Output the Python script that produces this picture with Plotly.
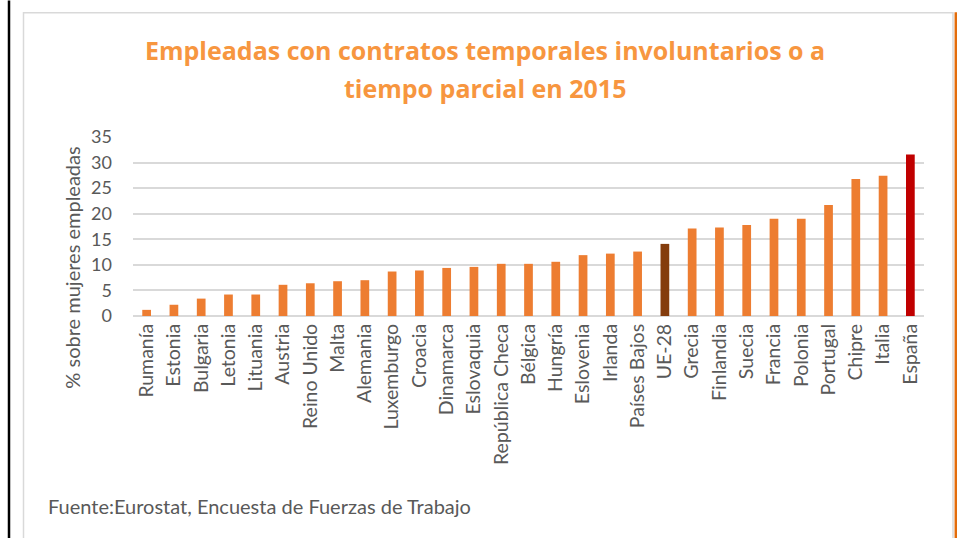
import plotly.graph_objects as go

countries = ["Rumanía", "Estonia", "Bulgaria", "Letonia", "Lituania", "Austria", "Reino Unido",
             "Malta", "Alemania", "Luxemburgo", "Croacia", "Dinamarca", "Eslovaquia",
             "República Checa", "Bélgica", "Hungría", "Eslovenia", "Irlanda", "Países Bajos",
             "UE-28", "Grecia", "Finlandia", "Suecia", "Francia", "Polonia", "Portugal",
             "Chipre", "Italia", "España"]
values = [1.2, 2.2, 3.4, 4.2, 4.2, 6.1, 6.4, 6.8, 7.0, 8.7, 8.9, 9.4, 9.6,
          10.2, 10.2, 10.6, 11.9, 12.2, 12.6, 14.1, 17.1, 17.3, 17.8, 19.0, 19.0, 21.7,
          26.8, 27.4, 31.6]
y_ticks = [0, 5, 10, 15, 20, 25, 30, 35]

title_line1 = "Empleadas con contratos temporales involuntarios o a"
title_line2 = "tiempo parcial en 2015"
y_title = "% sobre mujeres empleadas"
source = "Fuente:Eurostat, Encuesta de Fuerzas de Trabajo"

colors = []
for c in countries:
    if c == "UE-28":
        colors.append("#843C0C")
    elif c == "España":
        colors.append("#C00000")
    else:
        colors.append("#ED7D31")

W, H = 957, 538
L, R, T, B = 133, 33, 137, 538 - 316.5

fig = go.Figure(go.Bar(x=countries, y=values, marker=dict(color=colors, line_width=0)))

FONT = "Lato"
GRAY = "#595959"
fig.update_layout(
    width=W, height=H,
    margin=dict(l=L, r=R, t=T, b=B),
    paper_bgcolor="white", plot_bgcolor="white",
    bargap=0.68,
    showlegend=False,
    font=dict(family=FONT, color=GRAY),
    xaxis=dict(tickangle=-90, tickfont=dict(size=19.5, color=GRAY, family=FONT),
               showgrid=False, showline=False, ticks="", ticklen=0, ticklabelstandoff=3),
    yaxis=dict(range=[0, 35], tickvals=y_ticks, tickfont=dict(size=18, color=GRAY, family=FONT),
               showgrid=True, gridcolor="#D9D9D9", gridwidth=1.5, zeroline=True,
               zerolinecolor="#D9D9D9", zerolinewidth=1.5, showline=False, ticks="",
               ticklabelstandoff=20),
)

pw = W - L - R
ph = H - T - B

def px(x):
    return (x - L) / pw

def py(y):
    return (H - B - y) / ph

fig.add_shape(type="line", xref="paper", yref="paper", x0=px(9), x1=px(9),
              y0=py(0), y1=py(560), line=dict(color="black", width=2.5))
fig.add_shape(type="rect", xref="paper", yref="paper", x0=px(23.5), x1=px(953),
              y0=py(12.5), y1=py(560), line=dict(color="#D9D9D9", width=1.5),
              layer="below")
fig.add_shape(type="line", xref="paper", yref="paper", x0=px(955.8), x1=px(955.8),
              y0=py(12), y1=py(560), line=dict(color="#E36C0A", width=2.5))

TITLE_COLOR = "#F7963F"
for txt, yc in [(title_line1, 50), (title_line2, 88)]:
    fig.add_annotation(text="<b>" + txt + "</b>", xref="paper", yref="paper",
                       x=px(485), y=py(yc), xanchor="center", yanchor="middle",
                       showarrow=False, font=dict(size=25, color=TITLE_COLOR, family="Open Sans"))

fig.add_annotation(text=y_title, xref="paper", yref="paper", x=px(72), y=py(268),
                   xanchor="center", yanchor="middle", textangle=-90, showarrow=False,
                   font=dict(size=20, color=GRAY, family=FONT))

fig.add_annotation(text=source, xref="paper", yref="paper", x=px(46), y=py(507),
                   xanchor="left", yanchor="middle", showarrow=False,
                   font=dict(size=20, color=GRAY, family=FONT))

fig.write_html("out.html",
               config={"displayModeBar": False},
               post_script="document.body.style.margin='0';document.body.style.overflow='hidden';")
